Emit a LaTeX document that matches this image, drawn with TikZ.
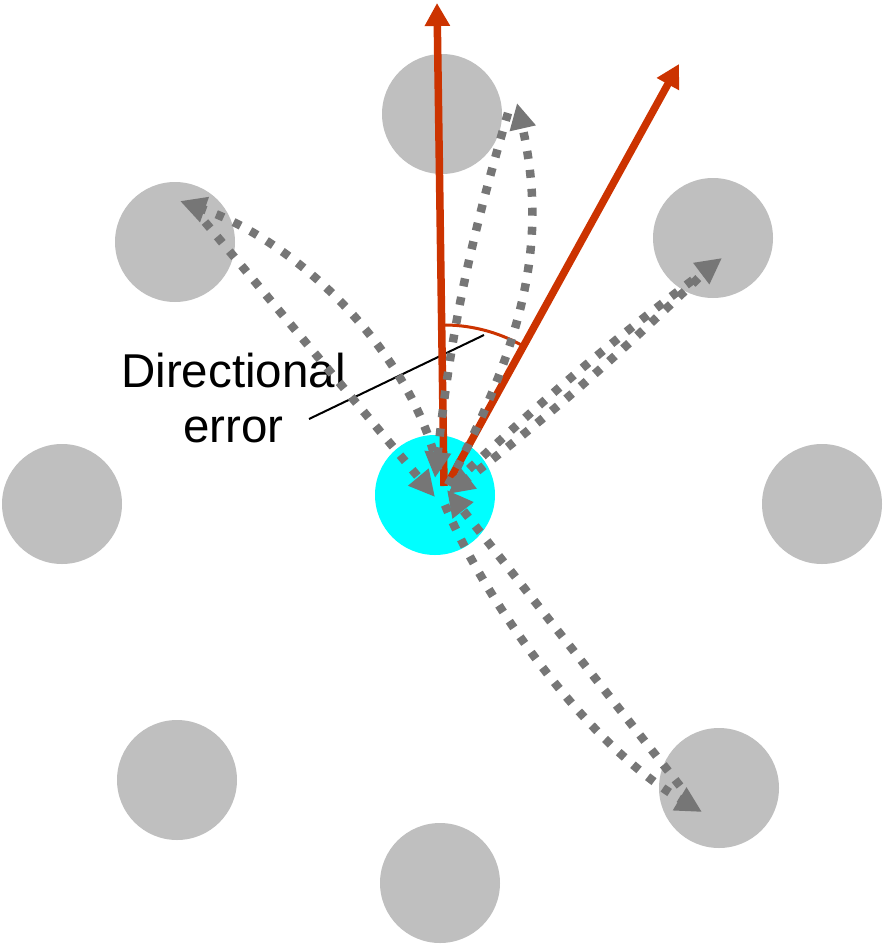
\documentclass[tikz,border=0pt]{standalone}
\usepackage{fontspec}
\setmainfont{Liberation Sans}
\usetikzlibrary{arrows.meta}

\definecolor{dotgray}{RGB}{118,118,118}
\definecolor{padgray}{RGB}{191,191,191}
\definecolor{hubcyan}{RGB}{0,255,255}
\definecolor{errred}{RGB}{204,51,0}

\begin{document}
\begin{tikzpicture}[x=1pt,y=1pt,
  target/.style={circle, fill=padgray, draw=none, minimum size=120pt, inner sep=0pt},
  home/.style={circle, fill=hubcyan, draw=none, minimum size=120pt, inner sep=0pt},
  reach/.style={draw=dotgray, line width=8.5pt, dash pattern=on 8pt off 11pt, -{Triangle[length=26pt,width=25pt]}},
  heading/.style={draw=errred, line width=7.5pt, -{Triangle[length=23pt,width=24pt]}},
  errarc/.style={draw=errred, line width=3pt},
  lbl/.style={font=\fontsize{47.5pt}{55pt}\selectfont, align=center, inner sep=0pt}]
\useasboundingbox (0,0) rectangle (885,-945);

% targets round the hub
\node[target] (nN)  at (442,-114) {};
\node[target] (nNW) at (175,-242) {};
\node[target] (nNE) at (713,-238) {};
\node[target] (nW)  at (62,-504) {};
\node[target] (nE)  at (822,-504) {};
\node[target] (nSW) at (177,-780) {};
\node[target] (nS)  at (440,-883) {};
\node[target] (nSE) at (719,-788) {};
\node[home] (hub) at (435,-495) {};

% label and leader
\node[lbl] (errlabel) at (233.5,-398) {Directional\\error};
\coordinate (lead0) at (309,-419);
\coordinate (lead1) at (484,-335);
\draw[line width=2pt] (lead0) -- (lead1);

% target and actual heading
\coordinate (r0) at (444,-486);
\coordinate (r1) at (437,-3);
\coordinate (r2) at (448,-483);
\coordinate (r3) at (679,-64);
\coordinate (arcA) at (441,-325);
\draw[errarc] (arcA) arc[start angle=91, end angle=61, radius=160];
\draw[heading] (r0) -- (r1);
\draw[heading] (r2) -- (r3);

% reaches out and back
\coordinate (a0) at (448,-485);
\coordinate (a1) at (517,-103);
\coordinate (b0) at (508,-113);
\coordinate (b1) at (435,-478);
\coordinate (c0) at (438,-470);
\coordinate (c1) at (180,-201);
\coordinate (d0) at (205,-222);
\coordinate (d1) at (435,-497);
\coordinate (e0) at (455,-482);
\coordinate (e1) at (722,-258);
\coordinate (f0) at (712,-265);
\coordinate (f1) at (448,-494);
\coordinate (g0) at (445,-505);
\coordinate (g1) at (702,-812);
\coordinate (h0) at (680,-786);
\coordinate (h1) at (447,-490);
\draw[reach] (a0) .. controls (525,-340) and (548,-240) .. (a1);
\draw[reach] (b0) to[bend right=5] (b1);
\draw[reach] (c0) .. controls (415,-360) and (305,-245) .. (c1);
\draw[reach] (d0) -- (d1);
\draw[reach] (e0) to[bend left=3] (e1);
\draw[reach] (f0) to[bend left=3] (f1);
\draw[reach] (g0) .. controls (480,-590) and (580,-740) .. (g1);
\draw[reach] (h0) -- (h1);
\end{tikzpicture}
\end{document}
